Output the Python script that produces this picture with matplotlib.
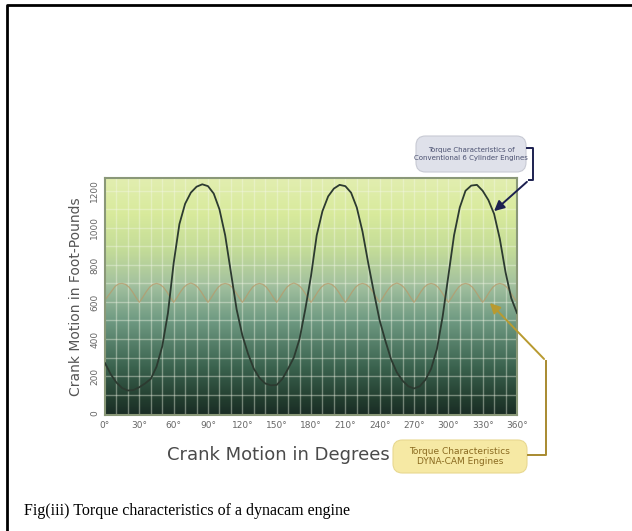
import numpy as np
import matplotlib
matplotlib.use("Agg")
import matplotlib.pyplot as plt
from matplotlib.colors import LinearSegmentedColormap
from matplotlib.patches import FancyArrowPatch, FancyBboxPatch
from matplotlib.lines import Line2D

# conventional 6 cylinder engine, every 5 degrees
conv_deg = list(range(0, 361, 5))
conv_torque = [270, 210, 165, 135, 122, 125, 140, 160, 185, 250,
               360, 540, 810, 1020, 1130, 1190, 1222, 1235, 1225, 1185,
               1100, 960, 760, 560, 420, 320, 240, 190, 160, 150,
               152, 185, 240, 300, 400, 560, 740, 960, 1090, 1170,
               1212, 1232, 1225, 1190, 1110, 980, 810, 650, 500, 390,
               290, 220, 175, 145, 133, 145, 180, 240, 345, 520,
               740, 960, 1110, 1200, 1228, 1232, 1200, 1150, 1075, 940,
               760, 620, 540]

# dyna-cam engine, every 3 degrees
dyn_deg = list(range(0, 361, 3))
dyn_torque = [610, 635, 660, 685, 698, 700, 695, 680, 655, 625,
              598, 625, 655, 680, 695, 700, 695, 680, 655, 625,
              598, 625, 655, 680, 695, 702, 695, 680, 655, 625,
              598, 625, 655, 680, 695, 700, 695, 680, 655, 625,
              598, 625, 655, 680, 695, 700, 695, 680, 655, 625,
              598, 625, 655, 680, 695, 702, 695, 680, 655, 625,
              598, 625, 655, 680, 695, 700, 695, 680, 655, 625,
              598, 625, 655, 680, 695, 700, 695, 680, 655, 625,
              598, 625, 655, 680, 695, 702, 695, 680, 655, 625,
              598, 625, 655, 680, 695, 700, 695, 680, 655, 625,
              598, 625, 655, 680, 695, 700, 695, 680, 655, 625,
              598, 625, 655, 680, 695, 700, 695, 680, 655, 625,
              600]

x_ticks = [0, 30, 60, 90, 120, 150, 180, 210, 240, 270, 300, 330, 360]
x_labels = ["0°", "30°", "60°", "90°", "120°", "150°", "180°", "210°",
            "240°", "270°", "300°", "330°", "360°"]
y_ticks = [0, 200, 400, 600, 800, 1000, 1200]

W, H = 632, 531
fig = plt.figure(figsize=(W / 100, H / 100), dpi=100)
fig.patch.set_facecolor("white")


def px(x, y):
    return (x / W, 1 - y / H)


def box(x0, y0, x1, y1, fc, ec):
    # rounded callout box given in pixel corners
    p = FancyBboxPatch(px(x0, y1), (x1 - x0) / W, (y1 - y0) / H,
                       boxstyle="round,pad=0,rounding_size=0.015",
                       transform=fig.transFigure, fc=fc, ec=ec, lw=0.8,
                       mutation_aspect=W / H)
    fig.add_artist(p)


ax = fig.add_axes([105 / W, 1 - 415 / H, 412 / W, 237 / H])

# background gradient
bg = LinearSegmentedColormap.from_list("bg", [
    (0.0, "#1a2c25"),
    (0.06, "#223c2e"),
    (0.2, "#3a624e"),
    (0.4, "#6f9a82"),
    (0.55, "#a3c19f"),
    (0.7, "#c4dc98"),
    (0.85, "#d8ea9c"),
    (1.0, "#e2eeb0"),
])
grad = np.linspace(0, 1, 256).reshape(-1, 1)
ax.imshow(grad, extent=[0, 1, 0, 1], transform=ax.transAxes, cmap=bg,
          origin="lower", aspect="auto", zorder=0)

for g in range(10, 360, 10):
    ax.axvline(g, color="#f4f8e8", alpha=0.4, lw=1.0, zorder=1)
for g in range(100, 1300, 100):
    ax.axhline(g, color="#f4f8e8", alpha=0.4, lw=1.0, zorder=1)

ax.plot(dyn_deg, dyn_torque, color="#b89a6a", lw=0.9, alpha=0.75, zorder=2)
ax.plot(conv_deg, conv_torque, color="#2c3a30", lw=1.3, zorder=3)

ax.set_xlim(0, 360)
ax.set_ylim(-10, 1269)
ax.set_xticks(x_ticks)
ax.set_xticklabels(x_labels, fontsize=6.5, color="#666666")
ax.set_yticks(y_ticks)
ax.set_yticklabels([str(v) for v in y_ticks], fontsize=6.5, color="#666666",
                   rotation=90, va="center")
ax.tick_params(length=0, pad=4)
for s in ax.spines.values():
    s.set_color("#8a9878")
    s.set_linewidth(1.5)

ax.set_ylabel("Crank Motion in Foot-Pounds", fontsize=10, color="#555555",
              labelpad=5)
fig.text(*px(278, 455), "Crank Motion in Degrees", fontsize=13,
         color="#4a4a4a", ha="center", va="center")

# callout: conventional engines
box(416, 136, 526, 172, "#dfe1ea", "#c8cad4")
fig.text(*px(471, 154),
         "Torque Characteristics of\nConventional 6 Cylinder Engines",
         fontsize=5.0, color="#4a5070", ha="center", va="center",
         linespacing=1.25)
fig.add_artist(Line2D([px(527, 148)[0], px(533, 148)[0], px(533, 180)[0], px(529, 180)[0]],
                      [px(527, 148)[1], px(533, 148)[1], px(533, 180)[1], px(529, 180)[1]],
                      color="#1c2050", lw=1.4))
fig.add_artist(FancyArrowPatch(px(529, 180), px(492, 213),
                               transform=fig.transFigure,
                               arrowstyle="-|>,head_length=6,head_width=3",
                               color="#1c2050", lw=1.4))

# callout: dyna-cam engines
box(393, 440, 527, 473, "#f6e9a4", "#e8d890")
fig.text(*px(460, 456.5),
         "Torque Characteristics\nDYNA-CAM Engines",
         fontsize=6.5, color="#8a6a20", ha="center", va="center",
         linespacing=1.15)
fig.add_artist(Line2D([px(528, 455)[0], px(546, 455)[0], px(546, 361)[0]],
                      [px(528, 455)[1], px(546, 455)[1], px(546, 361)[1]],
                      color="#a88a30", lw=1.4))
fig.add_artist(FancyArrowPatch(px(546, 361), px(488, 301),
                               transform=fig.transFigure,
                               arrowstyle="-|>,head_length=6,head_width=3",
                               color="#b89a30", lw=1.4))

# page frame and caption
fig.add_artist(Line2D([px(7, 531)[0], px(7, 5)[0], px(632, 5)[0]],
                      [px(7, 531)[1], px(7, 5)[1], px(632, 5)[1]],
                      color="black", lw=2.0))
fig.text(*px(24, 511), "Fig(iii) Torque characteristics of a dynacam engine",
         fontsize=11.5, family="Liberation Serif", color="black",
         ha="left", va="center")

fig.savefig("out.png", dpi=100)
